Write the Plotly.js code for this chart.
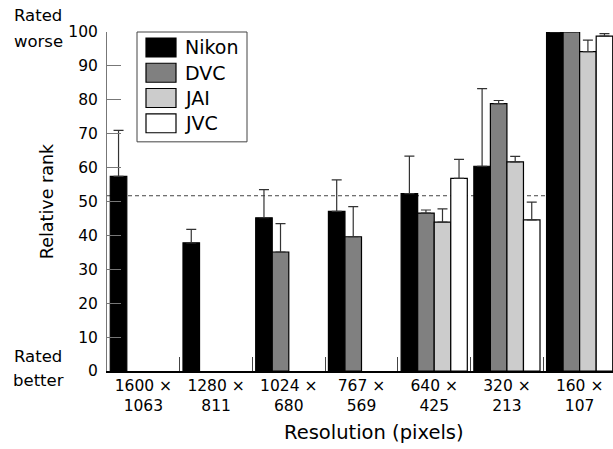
<!DOCTYPE html>
<html>
<head>
<meta charset="utf-8">
<script src="https://cdn.plot.ly/plotly-3.0.1.min.js"></script>
<style>
  html, body { margin: 0; padding: 0; overflow: hidden; background: #fff; }
  #chart { width: 620px; height: 449px; }
</style>
</head>
<body>
<div id="chart"></div>
<script>
// ---- data ----
const widths  = [1600, 1280, 1024, 767, 640, 320, 160];
const heights = [1063, 811, 680, 569, 425, 213, 107];
const categories = widths.map((w, i) => w + ' ×<br>' + heights[i]);

const seriesNames  = ['Nikon', 'DVC', 'JAI', 'JVC'];
const seriesColors = ['#000000', '#808080', '#cccccc', '#ffffff'];

const nikon    = [57.4, 37.8, 45.2, 47.1, 52.3, 60.4, 100];
const nikonErr = [13.6, 4.0, 8.3, 9.3, 11.1, 22.9, 0];
const dvc      = [null, null, 35.1, 39.6, 46.6, 78.9, 100];
const dvcErr   = [0, 0, 8.4, 8.9, 0.9, 0.9, 0];
const jai      = [null, null, null, null, 43.9, 61.7, 94.2];
const jaiErr   = [0, 0, 0, 0, 3.9, 1.6, 3.4];
const jvc      = [null, null, null, null, 56.8, 44.6, 98.8];
const jvcErr   = [0, 0, 0, 0, 5.6, 5.2, 0.7];

const referenceLevel = 51.7;
const yTicks = [0, 10, 20, 30, 40, 50, 60, 70, 80, 90, 100];
const xTitle = 'Resolution (pixels)';
const yTitle = 'Relative rank';

const seriesValues = [nikon, dvc, jai, jvc];
const seriesErrors = [nikonErr, dvcErr, jaiErr, jvcErr];

// ---- geometry helpers (pixel -> paper) ----
const W = 620, H = 449;
const M = { l: 107, r: 4, t: 32, b: 77.5 };
const PW = W - M.l - M.r, PH = H - M.t - M.b;
const px = x => (x - M.l) / PW;
const py = y => (M.t + PH - y) / PH;

const FONT = '"DejaVu Sans", "Noto Sans", sans-serif';

const traces = seriesNames.map((name, i) => ({
  type: 'bar',
  name: name,
  x: categories,
  y: seriesValues[i],
  marker: { color: seriesColors[i], line: { color: '#000', width: 1.2 } },
  error_y: {
    type: 'data', symmetric: false,
    array: seriesErrors[i],
    arrayminus: seriesErrors[i].map(() => 0),
    color: '#333', thickness: 1.2, width: 5
  },
  showlegend: false,
  hoverinfo: 'skip'
}));

// custom legend (large swatches like the reference)
const shapes = [];
const annotations = [];
shapes.push({
  type: 'rect', xref: 'paper', yref: 'paper',
  x0: px(137), x1: px(247), y0: py(142), y1: py(32),
  line: { color: '#444', width: 1 }, fillcolor: '#fff', layer: 'above'
});
seriesNames.forEach((name, i) => {
  const top = 38 + i * 25.3;
  shapes.push({
    type: 'rect', xref: 'paper', yref: 'paper',
    x0: px(146), x1: px(176), y0: py(top + 19), y1: py(top),
    line: { color: '#000', width: 1.2 }, fillcolor: seriesColors[i], layer: 'above'
  });
  annotations.push({
    xref: 'paper', yref: 'paper', x: px(183), y: py(top + 9.5),
    xanchor: 'left', yanchor: 'middle', showarrow: false,
    text: name, font: { family: FONT, size: 19, color: '#000' }
  });
});

// reference dashed line
shapes.push({
  type: 'line', xref: 'paper', yref: 'y',
  x0: 0, x1: 1, y0: referenceLevel, y1: referenceLevel,
  line: { color: '#444', width: 1, dash: '4px,3px' }, layer: 'below'
});

const sideLabels = [['Rated', 15], ['worse', 42], ['Rated', 357], ['better', 381]];
sideLabels.forEach(([txt, yy]) => {
  annotations.push({
    xref: 'paper', yref: 'paper', x: px(38), y: py(yy),
    xanchor: 'center', yanchor: 'middle', showarrow: false,
    text: txt, font: { family: FONT, size: 16.5, color: '#000' }
  });
});

// x-axis title placed like the reference (centred under the full, cropped panel)
annotations.push({
  xref: 'paper', yref: 'paper', x: px(374), y: py(433),
  xanchor: 'center', yanchor: 'middle', showarrow: false,
  text: xTitle, font: { family: FONT, size: 19.5, color: '#000' }
});

const layout = {
  width: W, height: H,
  margin: M,
  paper_bgcolor: '#fff', plot_bgcolor: '#fff',
  font: { family: FONT, size: 16, color: '#000' },
  barmode: 'group', bargap: 0.09, bargroupgap: 0,
  showlegend: false,
  xaxis: {
    type: 'category',
    range: [-0.5, categories.length - 0.5],
    tickson: 'boundaries',
    ticks: 'inside', ticklen: 14, tickcolor: '#444', tickwidth: 1,
    showline: true, linecolor: '#000', linewidth: 1.5,
    showgrid: false, zeroline: false,
    tickfont: { family: FONT, size: 15.5 },
    fixedrange: true
  },
  yaxis: {
    range: [0, 100],
    tickvals: yTicks,
    ticks: 'inside', ticklen: 14, tickcolor: '#777', tickwidth: 1,
    showline: true, linecolor: '#777', linewidth: 1,
    showgrid: false, zeroline: false,
    ticklabelstandoff: 5,
    tickfont: { family: FONT, size: 15.5 },
    title: { text: yTitle, font: { family: FONT, size: 17.5 }, standoff: 10 },
    fixedrange: true
  },
  shapes: shapes,
  annotations: annotations
};

Plotly.newPlot('chart', traces, layout, { displayModeBar: false, responsive: false, staticPlot: true });
</script>
</body>
</html>
